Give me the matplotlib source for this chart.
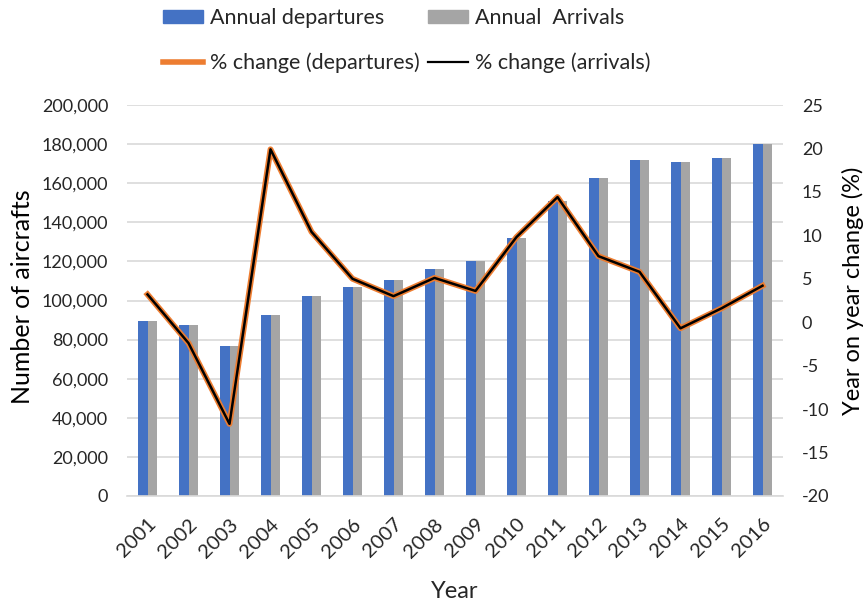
import matplotlib
matplotlib.use("Agg")
import matplotlib.pyplot as plt
import numpy as np
from matplotlib.ticker import FuncFormatter
from matplotlib.patches import Patch
from matplotlib.lines import Line2D

plt.rcParams['font.family'] = ['Lato', 'DejaVu Sans']
plt.rcParams['axes.unicode_minus'] = False

years = ['2001', '2002', '2003', '2004', '2005', '2006', '2007', '2008',
         '2009', '2010', '2011', '2012', '2013', '2014', '2015', '2016']
departures = [89700, 87500, 76900, 92400, 102100, 107100, 110500, 116000,
              120200, 132000, 151000, 162500, 171900, 170800, 173100, 180200]
arrivals = [89700, 87500, 76900, 92400, 102100, 107100, 110500, 116000,
            120200, 132000, 151000, 162500, 171900, 170800, 173100, 180200]
pct_departures = [3.2, -2.4, -11.7, 19.9, 10.4, 5.0, 3.0, 5.1,
                  3.6, 9.8, 14.4, 7.6, 5.8, -0.7, 1.6, 4.2]
pct_arrivals = [3.2, -2.4, -11.7, 19.9, 10.4, 5.0, 3.0, 5.1,
                3.6, 9.8, 14.4, 7.6, 5.8, -0.7, 1.6, 4.2]

BLUE = '#4472c4'
GREY = '#a5a5a5'
ORANGE = '#ed7d31'
TXT = '#262626'

fig = plt.figure(figsize=(8.65, 6.03), dpi=100)
ax = fig.add_axes([127/865, 1-496/603, (783-127)/865, (496-105)/603])
ax2 = ax.twinx()

x = np.arange(len(years))
w = 0.23
ax.bar(x - w/2, departures, width=w, color=BLUE, zorder=2)
ax.bar(x + w/2, arrivals, width=w, color=GREY, zorder=2)

ax.set_xlim(-0.5, len(years) - 0.5)
ax.set_ylim(0, 200000)
ax.set_yticks(np.arange(0, 200001, 20000))
ax.yaxis.set_major_formatter(FuncFormatter(lambda v, p: f'{int(v):,}'))
ax.grid(axis='y', color='#d9d9d9', linewidth=1.2, zorder=0)
ax.set_axisbelow(True)
ax.set_xticks(x)
ax.set_xticklabels(years, rotation=45, ha='right', va='top',
                   rotation_mode='anchor')

for a in (ax, ax2):
    for s in a.spines.values():
        s.set_visible(False)
    a.tick_params(length=0, labelsize=13, colors=TXT, pad=13.5)
ax.spines['bottom'].set_visible(True)
ax.spines['bottom'].set_color('#d9d9d9')
ax.spines['bottom'].set_linewidth(1.2)
ax.tick_params(axis='x', labelsize=14.5, pad=14)

ax2.plot(x, pct_departures, color=ORANGE, linewidth=4.2, zorder=3,
         solid_joinstyle='round')
ax2.plot(x, pct_arrivals, color='black', linewidth=1.8, zorder=4)
ax2.set_ylim(-20, 25)
ax2.set_yticks(np.arange(-20, 26, 5))

ax.set_ylabel('Number of aircrafts', fontsize=18, color='black')
ax.yaxis.set_label_coords(-0.16, 0.51)
ax.yaxis.label.set_va('center')
ax2.set_ylabel('Year on year change (%)', fontsize=17, color='black')
ax2.yaxis.set_label_coords(1.1067, 0.525)
ax2.yaxis.label.set_va('center')
ax.set_xlabel('Year', fontsize=17, color=TXT)
ax.xaxis.set_label_coords(0.5, -0.2455)
ax.xaxis.label.set_va('center')

# legend: two rows (bars on top, change lines below)
handles = [Patch(color=BLUE), Line2D([], [], color=ORANGE, linewidth=4),
           Patch(color=GREY), Line2D([], [], color='black', linewidth=1.6)]
labels = ['Annual departures', '% change (departures)',
          'Annual  Arrivals', '% change (arrivals)']
fig.legend(handles, labels, ncol=2, loc='upper left',
           bbox_to_anchor=(163/865, 1 - 8/603), frameon=False, fontsize=15.5,
           handlelength=1.86, handleheight=0.56, handletextpad=0.33,
           columnspacing=0.37, labelspacing=1.13, borderpad=0,
           borderaxespad=0, labelcolor=TXT)

fig.savefig('out.png', dpi=100)
